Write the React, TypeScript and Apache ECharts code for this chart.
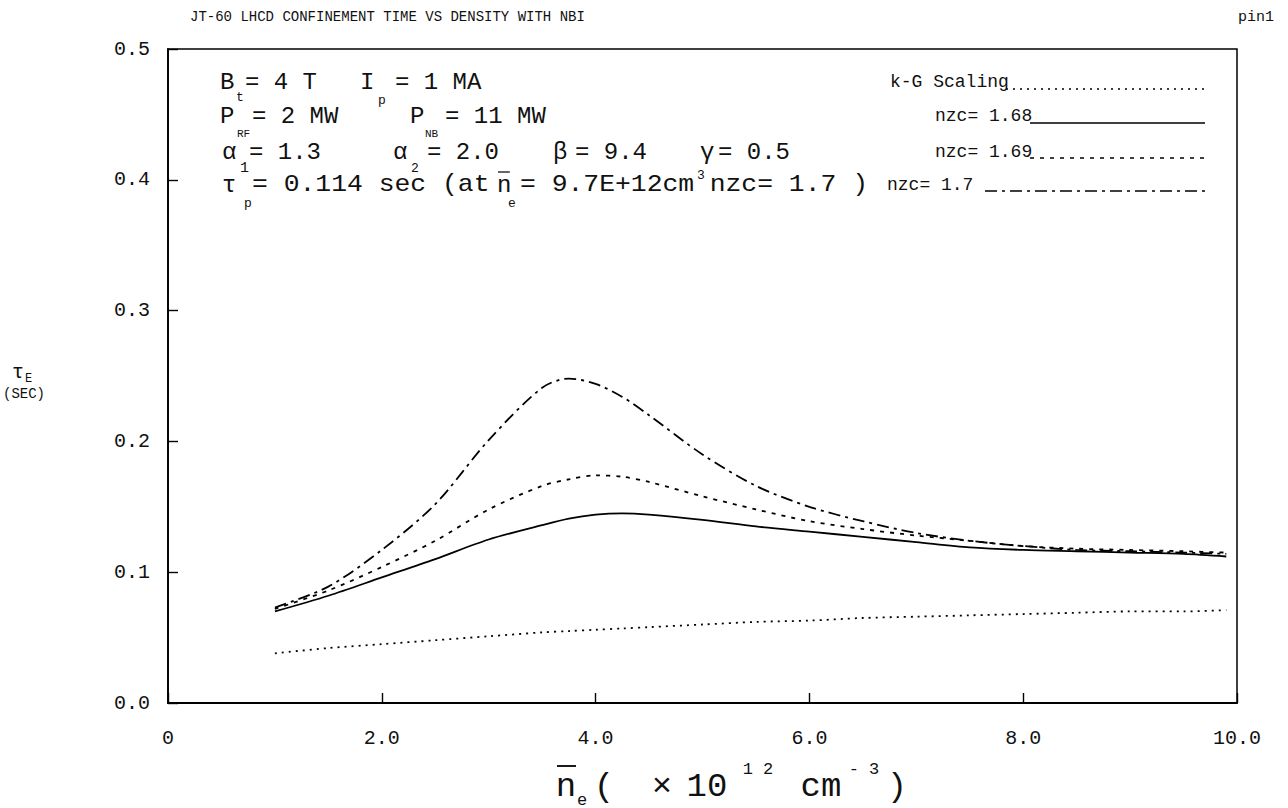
import React, { useEffect, useRef } from "react";
import * as echarts from "echarts";

// ---- data ----
const xValues = [1.0, 1.5, 2.0, 2.5, 3.0, 3.5, 3.75, 4.0, 4.25, 4.5, 5.0, 5.5, 6.0, 6.5, 7.0, 7.5, 8.0, 8.5, 9.0, 9.5, 9.9];
const kgScaling = [0.038, 0.042, 0.045, 0.048, 0.051, 0.054, 0.055, 0.056, 0.057, 0.058, 0.060, 0.062, 0.063, 0.065, 0.066, 0.067, 0.068, 0.069, 0.070, 0.070, 0.071];
const nzc168 = [0.070, 0.082, 0.096, 0.110, 0.125, 0.136, 0.141, 0.144, 0.145, 0.144, 0.140, 0.135, 0.131, 0.127, 0.123, 0.119, 0.117, 0.116, 0.115, 0.114, 0.112];
const nzc169 = [0.072, 0.086, 0.104, 0.124, 0.148, 0.166, 0.171, 0.174, 0.173, 0.169, 0.158, 0.148, 0.139, 0.133, 0.128, 0.124, 0.120, 0.118, 0.117, 0.116, 0.115];
const nzc170 = [0.073, 0.089, 0.117, 0.152, 0.201, 0.241, 0.248, 0.244, 0.234, 0.220, 0.190, 0.166, 0.150, 0.139, 0.130, 0.124, 0.120, 0.117, 0.116, 0.115, 0.114];

const seriesNames = ["k-G Scaling", "nzc= 1.68", "nzc= 1.69", "nzc= 1.7"];
const titleText = "JT-60 LHCD CONFINEMENT TIME VS DENSITY WITH NBI";
const cornerText = "pin1";

const FONT = "Liberation Mono";
const INK = "#111";

const DASH_KG = [2, 5];
const DASH_169 = [4, 6];
const DASH_170 = [12, 5, 3, 5];

const ANN = 24; // annotation font size
const SUB = 13; // sub/superscript size
const LEG = 18; // legend font size
const TICK = 20; // tick label size

function txt(text: string, x: number, y: number, size = ANN, align = "left", sx = 1) {
  return {
    type: "text",
    x,
    y,
    scaleX: sx,
    silent: true,
    style: {
      text,
      fontFamily: FONT,
      fontSize: size,
      fill: INK,
      align,
      verticalAlign: "middle",
      textAlign: align,
      textVerticalAlign: "middle",
    },
  };
}

function seg(x1: number, y1: number, x2: number, y2: number, dash: any = null, w = 1.6) {
  return {
    type: "line",
    silent: true,
    shape: { x1, y1, x2, y2 },
    style: { stroke: "#000", lineWidth: w, lineDash: dash || undefined },
  };
}

export default function App() {
  const ref = useRef<HTMLDivElement>(null);

  useEffect(() => {
    const chart = echarts.init(ref.current as HTMLDivElement, null, { renderer: "svg" });
    const pair = (ys: number[]) => xValues.map((x, i) => [x, ys[i]]);
    const line = (name: string, ys: number[], type: any, width = 1.8) => ({
      name,
      type: "line",
      data: pair(ys),
      smooth: 0.3,
      showSymbol: false,
      symbol: "none",
      lineStyle: { color: "#000", width, type },
      silent: true,
    });

    const R4 = 1.1;
    const graphics: any[] = [
      txt(titleText, 190, 17, 14),
      txt(cornerText, 1274, 17, 15, "right"),
      // row 1
      txt("B", 220, 82),
      txt("t", 236, 97, SUB),
      txt("= 4 T", 245, 82),
      txt("I", 360, 82),
      txt("p", 378, 100, SUB),
      txt("= 1 MA", 395, 82),
      // row 2
      txt("P", 220, 116),
      txt("RF", 237, 134, 11),
      txt("= 2 MW", 252, 116),
      txt("P", 410, 116),
      txt("NB", 425, 134, 11),
      txt("= 11 MW", 445, 116),
      // row 3
      txt("α", 222, 152),
      txt("1", 240, 168, 15),
      txt("= 1.3", 249, 152),
      txt("α", 393, 152),
      txt("2", 411, 168, SUB),
      txt("= 2.0", 427, 152),
      txt("β", 553, 152),
      txt("= 9.4", 575, 152),
      txt("γ", 700, 152),
      txt("= 0.5", 718, 152),
      // row 4
      txt("τ", 222, 185),
      txt("p", 244, 203, SUB),
      txt("= 0.114 sec (at", 252, 185, ANN, "left", R4),
      txt("n", 497, 185),
      seg(498, 172, 510, 172, null, 1.2),
      txt("e", 508, 203, SUB),
      txt("= 9.7E+12cm", 520, 185, ANN, "left", R4),
      txt("3", 697, 175, SUB),
      txt("nzc= 1.7 )", 868, 185, ANN, "right", R4),
      // legend
      txt(seriesNames[0], 890, 82, LEG),
      seg(1006, 89, 1205, 89, DASH_KG),
      txt(seriesNames[1], 935, 116, LEG),
      seg(1030, 123, 1205, 123),
      txt(seriesNames[2], 935, 152, LEG),
      seg(1030, 158, 1205, 158, DASH_169),
      txt(seriesNames[3], 887, 185, LEG),
      seg(985, 191, 1205, 191, DASH_170),
      // y axis name
      txt("τ", 12, 372, 20),
      txt("E", 25, 379, 12),
      txt("(SEC)", 3, 394, 14),
      // x axis name
      txt("n", 566, 787, 34, "center"),
      seg(557, 766, 576, 766, null, 1.8),
      txt("e", 582, 800, 17, "center"),
      txt("(", 604, 787, 34, "center"),
      txt("×", 662, 787, 34, "center"),
      txt("10", 707, 787, 34, "center"),
      txt("1 2", 758, 769, 17, "center"),
      txt("cm", 821, 787, 34, "center"),
      txt("- 3", 864, 769, 17, "center"),
      txt(")", 897, 787, 34, "center"),
    ];

    chart.setOption({
      animation: false,
      backgroundColor: "#fff",
      grid: {
        left: 168,
        right: 51,
        top: 49,
        bottom: 105,
        show: true,
        borderColor: "#000",
        borderWidth: 1.5,
        backgroundColor: "transparent",
      },
      xAxis: {
        type: "value",
        min: 0,
        max: 10,
        interval: 2,
        axisLine: { show: true, lineStyle: { color: "#000", width: 1.8 } },
        axisTick: { show: true, inside: true, length: 10, lineStyle: { color: "#000", width: 1.4 } },
        splitLine: { show: false },
        axisLabel: {
          margin: 25,
          color: INK,
          fontFamily: FONT,
          fontSize: TICK,
          formatter: (v: number) => (v === 0 ? "0" : v.toFixed(1)),
        },
      },
      yAxis: {
        type: "value",
        min: 0,
        max: 0.5,
        interval: 0.1,
        axisLine: { show: true, lineStyle: { color: "#000", width: 1.8 } },
        axisTick: { show: true, inside: true, length: 10, lineStyle: { color: "#000", width: 1.4 } },
        splitLine: { show: false },
        axisLabel: {
          margin: 18,
          color: INK,
          fontFamily: FONT,
          fontSize: TICK,
          formatter: (v: number) => v.toFixed(1),
        },
      },
      series: [
        line(seriesNames[0], kgScaling, DASH_KG),
        line(seriesNames[1], nzc168, "solid"),
        line(seriesNames[2], nzc169, DASH_169),
        line(seriesNames[3], nzc170, DASH_170),
      ],
      graphic: graphics,
    });

    return () => chart.dispose();
  }, []);

  return (
    <div
      ref={ref}
      style={{ position: "fixed", left: 0, top: 0, width: 1288, height: 808, background: "#fff" }}
    />
  );
}
